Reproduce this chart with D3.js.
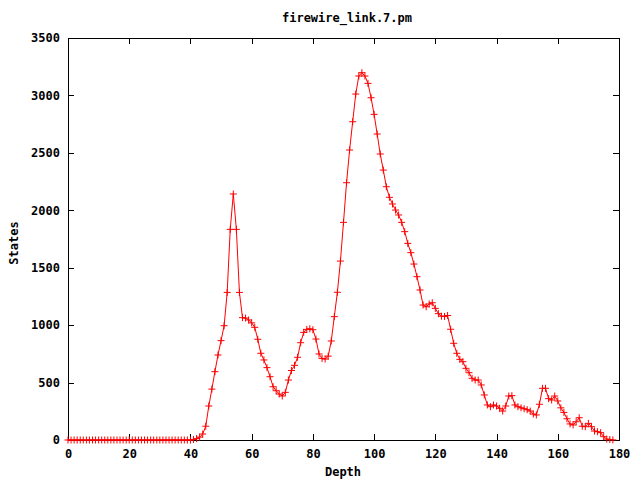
<!DOCTYPE html>
<html>
<head>
<meta charset="utf-8">
<script src="https://cdn.jsdelivr.net/npm/d3@7"></script>
<style>
  html, body { margin: 0; padding: 0; background: #fff; }
  svg text { font-family: "DejaVu Sans Mono", "Liberation Mono", monospace; font-weight: bold; font-size: 12px; fill: #000; }
</style>
</head>
<body>
<svg id="chart" width="640" height="480"></svg>
<script>
const title = "firewire_link.7.pm";
const xLabel = "Depth";
const yLabel = "States";
const xTicks = [0, 20, 40, 60, 80, 100, 120, 140, 160, 180];
const yTicks = [0, 500, 1000, 1500, 2000, 2500, 3000, 3500];
const depths = d3.range(0, 179);
const states = [
  0,0,0,0,0,0,0,0,0,0,
  0,0,0,0,0,0,0,0,0,0,
  0,0,0,0,0,0,0,0,0,0,
  0,0,0,0,0,0,0,0,0,0,
  0,5,12,25,52,120,296,443,595,740,
  865,995,1285,1834,2142,1834,1285,1065,1062,1045,
  1020,981,877,755,697,630,551,464,429,400,
  383,415,522,605,650,720,847,937,963,968,
  960,879,749,710,705,730,862,1074,1286,1558,
  1895,2240,2525,2771,3012,3169,3198,3169,3105,2980,
  2835,2664,2490,2350,2205,2113,2055,2002,1959,1895,
  1814,1712,1631,1532,1422,1306,1175,1160,1184,1195,
  1146,1100,1078,1076,1084,964,842,755,702,682,
  624,586,537,522,522,479,392,305,290,305,
  296,276,252,296,383,386,305,290,280,272,
  264,252,226,218,311,450,450,360,348,383,
  340,280,240,185,140,131,159,194,120,116,
  145,116,78,72,64,29,8,4,1
];
const data = depths.map((d, i) => ({ d: d, v: states[i] }));

const svg = d3.select("#chart");
const L = 68, R = 619, T = 38, B = 440;
const x = d3.scaleLinear().domain([0, 180]).range([L, R]);
const y = d3.scaleLinear().domain([0, 3500]).range([B, T]);

svg.append("rect").attr("width", 640).attr("height", 480).attr("fill", "#fff");

function styleAxis(g) {
  g.select(".domain").remove();
  g.selectAll(".tick line").attr("stroke", "#000").attr("shape-rendering", "crispEdges");
  g.selectAll(".tick text").attr("fill", "#000").attr("font-family", null).attr("font-size", null);
}

svg.append("g").attr("transform", `translate(0,${B})`)
  .call(d3.axisBottom(x).tickValues(xTicks).tickSize(-6).tickPadding(9).tickFormat(d3.format("d")))
  .call(styleAxis);
svg.append("g").attr("transform", `translate(0,${T})`)
  .call(d3.axisTop(x).tickValues(xTicks).tickSize(-6).tickFormat(""))
  .call(styleAxis);
svg.append("g").attr("transform", `translate(${L},0)`)
  .call(d3.axisLeft(y).tickValues(yTicks).tickSize(-6).tickPadding(8).tickFormat(d3.format("d")))
  .call(styleAxis);
svg.append("g").attr("transform", `translate(${R},0)`)
  .call(d3.axisRight(y).tickValues(yTicks).tickSize(-6).tickFormat(""))
  .call(styleAxis);

svg.append("rect").attr("x", L).attr("y", T).attr("width", R - L).attr("height", B - T)
  .attr("fill", "none").attr("stroke", "#000").attr("stroke-width", 1).attr("shape-rendering", "crispEdges");

const line = d3.line().x(p => x(p.d)).y(p => y(p.v));
svg.append("path").datum(data).attr("d", line)
  .attr("fill", "none").attr("stroke", "#ff0000").attr("stroke-width", 1);

const a = 3.5;
svg.append("g").selectAll("path.pt").data(data).join("path")
  .attr("class", "pt")
  .attr("d", p => {
    const cx = x(p.d), cy = y(p.v);
    return `M${cx - a},${cy}H${cx + a}M${cx},${cy - a}V${cy + a}`;
  })
  .attr("stroke", "#ff0000").attr("stroke-width", 1).attr("fill", "none");

svg.append("text").attr("x", 347).attr("y", 22).attr("text-anchor", "middle").text(title);
svg.append("text").attr("x", 343).attr("y", 476).attr("text-anchor", "middle").text(xLabel);
svg.append("text").attr("transform", "translate(18,243) rotate(-90)").attr("text-anchor", "middle").text(yLabel);
</script>
</body>
</html>
